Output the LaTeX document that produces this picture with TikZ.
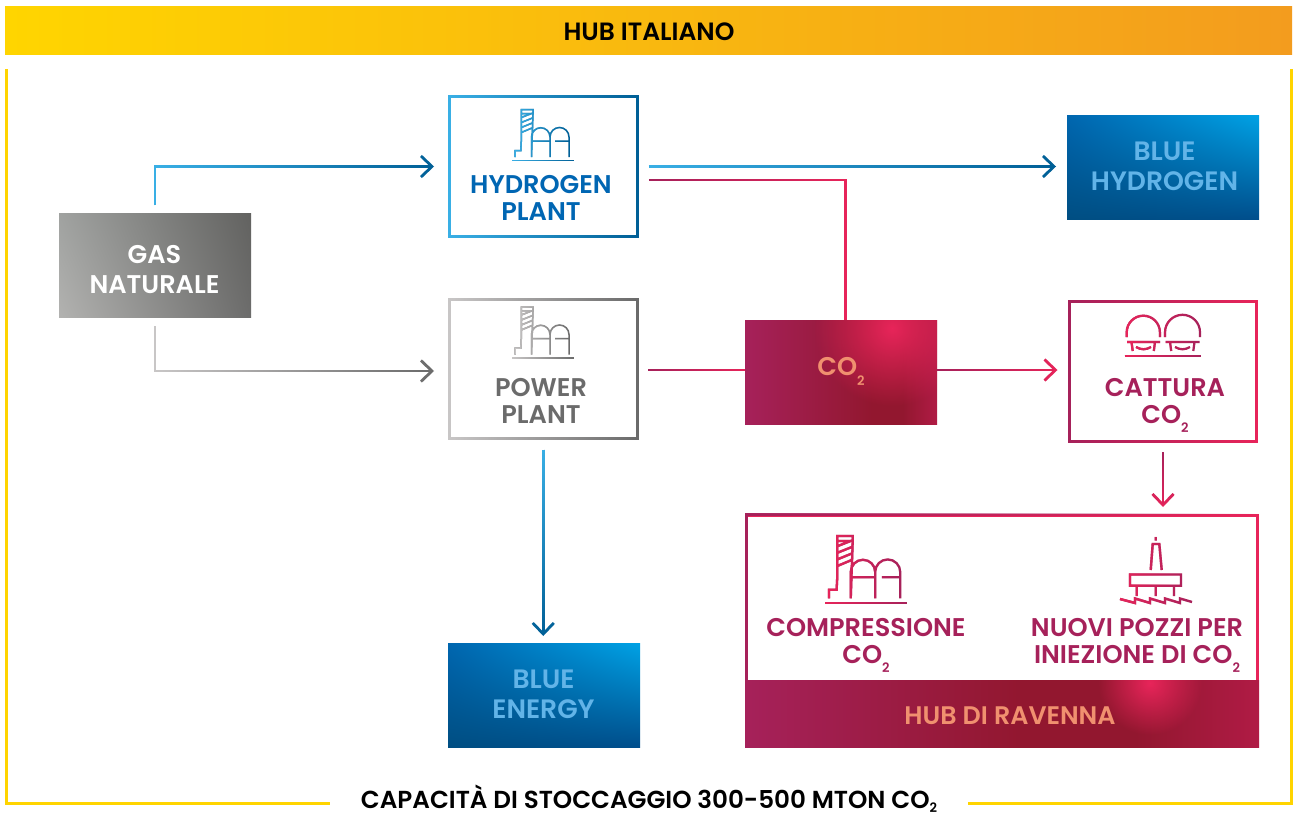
\documentclass[tikz,border=0pt]{standalone}
\usepackage{fontspec}
\setmainfont{Poppins}[BoldFont={Poppins SemiBold}]
\usetikzlibrary{arrows.meta,fadings,calc,shadings}
\definecolor{ybar1}{HTML}{FFD500}\definecolor{ybar2}{HTML}{F39C1E}
\definecolor{yline}{HTML}{FFD400}
\definecolor{bl1}{HTML}{3AB0E6}\definecolor{bl2}{HTML}{005F96}
\definecolor{gr1}{HTML}{C9C7C7}\definecolor{gr2}{HTML}{6A6A6A}
\definecolor{rd1}{HTML}{A6215A}\definecolor{rd2}{HTML}{E8255A}
\definecolor{bluetxt}{HTML}{0066B3}\definecolor{greytxt}{HTML}{6B6B6B}
\definecolor{redtxt}{HTML}{A6215A}\definecolor{paleblue}{HTML}{62B4E8}
\definecolor{salmon}{HTML}{F0906F}
\definecolor{dk}{HTML}{92172F}\definecolor{rr}{HTML}{B01B45}
\definecolor{gul}{HTML}{A0A2A0}\definecolor{gll}{HTML}{B2B2B0}\definecolor{gur}{HTML}{626260}\definecolor{glr}{HTML}{6C6C6B}
\definecolor{bul}{HTML}{0066AF}\definecolor{bur}{HTML}{00A2E5}\definecolor{bll}{HTML}{004E82}\definecolor{blr}{HTML}{004E8C}
\pgfdeclarehorizontalshading{coaxis}{100bp}{color(0bp)=(rd1); color(25bp)=(rd1); color(58bp)=(dk); color(66bp)=(dk); color(75bp)=(rr); color(100bp)=(rr)}
\pgfdeclarehorizontalshading{hubaxis}{100bp}{color(0bp)=(rd1); color(25bp)=(rd1); color(52bp)=(dk); color(63bp)=(dk); color(75bp)=(rr); color(100bp)=(rr)}
\tikzfading[name=fl, left color=transparent!0, right color=transparent!100]
\tikzfading[name=ft, top color=transparent!0, bottom color=transparent!100]
\tikzfading[name=blob, inner color=transparent!0, outer color=transparent!100]
\newcommand\subtwo{\raisebox{-.36em}{\fontsize{13}{13}\selectfont 2}}
\newcommand\gradh[3]{\draw[#1,icon] #3; \draw[#2,icon,path fading=fl,fit fading] #3;}
\newcommand\fadeframe[2]{\draw[#2,line width=3pt,path fading=fl,fit fading] (#1.north west) rectangle (#1.south east);}
\newcommand\factory[4]{% x y scale lw
 \begin{scope}[shift={(#1,#2)},scale=#3,line width=#4]
  \gradh{\fcolb}{\fcol}{(9.3,-50.8) rectangle (21,-47) (9.3,-47) -- (9.3,-20) -- (8.8,-10) -- (3,-10) -- (3,-3.5)
   (21,-47) -- (19.5,-3.5)
   (9.3,-43) -- (20.8,-47.5) (9.3,-38) -- (20.5,-42.5) (9.3,-33) -- (20.3,-37.5) (9.3,-28) -- (20,-32.5)
   (19.5,-3.5) -- (19.5,-23.5) arc[start angle=180,end angle=360,radius=9.25] -- (38,-3.5)
   (38,-23.5) arc[start angle=180,end angle=360,radius=9.5] -- (57,-3.5)
   (19,-19.5) -- (37,-19.5) (43,-19.5) -- (57,-19.5)}
  \gradh{\fcolb}{\fcol}{(0,-1) (0,1) (0,0) -- (62,0)}
 \end{scope}}
\tikzset{
 icon/.style={},
 conn/.style={line width=2.6pt},
 tip/.style={-{Straight Barb[length=11pt,width=21pt,line width=2.8pt]}},
 fade h/.style={path fading=fl,fit fading},
 fade v/.style={path fading=ft,fit fading},
 frame/.style={rectangle,line width=3pt,fill=white,inner sep=0pt,outer sep=0pt},
 box/.style={rectangle,inner sep=0pt,outer sep=0pt,minimum width=192pt,minimum height=104pt},
 blueshade/.style={upper left=bul, upper right=bur, lower left=bll, lower right=blr},
 lab/.style={align=center,inner sep=0pt,font=\bfseries\fontsize{25.6}{27}\selectfont},
 lab2/.style={align=center,inner sep=0pt,font=\bfseries\fontsize{25.6}{30}\selectfont},
 lab3/.style={align=center,inner sep=0pt,font=\bfseries\fontsize{26.6}{30}\selectfont},
}
\begin{document}
\begin{tikzpicture}[x=1pt,y=-1pt,line join=miter]
\useasboundingbox (0,0) rectangle (1293,816);
\fill[white] (0,0) rectangle (1293,816);
% top bar and outer frame
\node[rectangle,inner sep=0pt,minimum width=1287pt,minimum height=48pt,left color=ybar1,right color=ybar2] (topbar) at (648.5,31) {};
\node[inner sep=0pt,font=\bfseries\fontsize{25}{25}\selectfont] (toplab) at (649,32) {HUB ITALIANO};
\node[inner sep=0pt,anchor=base,font=\bfseries\fontsize{24.6}{25}\selectfont] (bottom) at (649,808) {CAPACITÀ DI STOCCAGGIO 300-500 MTON CO\raisebox{-.18em}{\fontsize{13}{13}\selectfont 2}};
\draw[yline,line width=3pt] (6,69) -- (6,803) -- (330,803);
\draw[yline,line width=3pt] (968,803) -- (1291,803) -- (1291,69);
% filled boxes
\node[box,upper left=gul,lower left=gll,upper right=gur,lower right=glr] (gas) at (155,265) {};
\node[lab2,text=white] (gaslab) at (154.5,270) {GAS\\NATURALE};
\node[box,blueshade] (bh) at (1163,167) {};
\node[lab3,text=paleblue] (bhlab) at (1164.5,166.5) {BLUE\\HYDROGEN};
\node[box,blueshade] (be) at (544,695) {};
\node[lab3,text=paleblue] (belab) at (543.5,694.5) {BLUE\\ENERGY};
% framed boxes
\node[frame,draw=bl2,minimum width=187.5pt,minimum height=140pt] (hp) at (543.25,166.5) {};
\fadeframe{hp}{bl1}
\node[frame,draw=gr2,minimum width=187.5pt,minimum height=139pt] (pp) at (543.25,369) {};
\fadeframe{pp}{gr1}
\node[frame,draw=rd2,minimum width=187pt,minimum height=140pt] (cat) at (1163,371.5) {};
\fadeframe{cat}{rd1}
\node[frame,draw=rd2,minimum width=511pt,minimum height=231pt] (rav) at (1002,630.5) {};
\fadeframe{rav}{rd1}
\node[lab,text=bluetxt] (hplab) at (541,197.5) {HYDROGEN\\PLANT};
\node[lab,text=greytxt] (pplab) at (541,401) {POWER\\PLANT};
\node[lab,text=redtxt] (catlab) at (1165,405.5) {CATTURA\\CO\subtwo};
\node[lab,text=redtxt] (complab) at (866,645.5) {COMPRESSIONE\\CO\subtwo};
\node[lab,text=redtxt] (pozzilab) at (1137,645.5) {NUOVI POZZI PER\\INIEZIONE DI CO\subtwo};
% CO2 box
\node[box,shading=coaxis] (co2) at (841,372) {};
\begin{scope}
 \clip (745,320) rectangle (937,424);
 \fill[rd2,path fading=blob,fit fading] (892,328) circle[radius=78];
\end{scope}
\node[inner sep=0pt,font=\bfseries\fontsize{25.6}{27}\selectfont,text=salmon] (co2lab) at (841,371.5) {CO\subtwo};
% Ravenna band
\node[rectangle,inner sep=0pt,outer sep=0pt,minimum width=514pt,minimum height=67pt,shading=hubaxis] (band) at (1002,713.5) {};
\begin{scope}
 \clip (745,680) rectangle (1259,747);
 \fill[rd2,path fading=blob,fit fading] (1150,683) circle[radius=52];
\end{scope}
\node[inner sep=0pt,font=\bfseries\fontsize{25.4}{27}\selectfont,text=salmon] (hublab) at (1010,716) {HUB DI RAVENNA};
% icons
\def\fcol{bl1}\def\fcolb{bl2}\factory{512}{160.5}{1}{1.5pt}
\def\fcol{gr1}\def\fcolb{gr2}\factory{512}{358}{1}{1.5pt}
\def\fcol{rd2}\def\fcolb{rd1}\factory{825}{603}{1.32}{2.3pt}
% tanks
\begin{scope}[line width=2.2pt]
\draw[rd1] (1124.5,356) -- (1201,356);
\draw[rd2,path fading=fl,fit fading] (1124.5,355) (1124.5,357) (1124.5,356) -- (1201,356);
\draw[rd1] (1126.7,337) -- (1126.7,332.3) arc[start angle=180,end angle=360,radius=16.6] -- (1159.9,337)
  (1127,342) -- (1160,342) (1131.5,342) -- (1132.7,351) (1155,342) -- (1153.8,351) (1136,347) .. controls (1141,350) and (1146,350) .. (1151,347)
  (1165,337) -- (1165,332.3) arc[start angle=180,end angle=360,radius=17.5] -- (1200,337)
  (1165.5,342) -- (1199.5,342) (1170,342) -- (1171.2,351) (1194.5,342) -- (1193.3,351) (1175,347) .. controls (1180,350) and (1185,350) .. (1190,347);
\draw[rd2,path fading=fl,fit fading] (1126.7,337) -- (1126.7,332.3) arc[start angle=180,end angle=360,radius=16.6] -- (1159.9,337)
  (1127,342) -- (1160,342) (1131.5,342) -- (1132.7,351) (1155,342) -- (1153.8,351) (1136,347) .. controls (1141,350) and (1146,350) .. (1151,347)
  (1165,337) -- (1165,332.3) arc[start angle=180,end angle=360,radius=17.5] -- (1200,337)
  (1165.5,342) -- (1199.5,342) (1170,342) -- (1171.2,351) (1194.5,342) -- (1193.3,351) (1175,347) .. controls (1180,350) and (1185,350) .. (1190,347);
\end{scope}
% platform
\begin{scope}[line width=2.4pt]
\draw[rd1] (1155.7,537) -- (1155.7,540.5) (1150.7,570) -- (1152.7,544) -- (1159.3,544) -- (1161.7,570)
  (1130,574.5) rectangle (1181,585.7) (1136.7,585.7) -- (1136.7,596) (1155.7,585.7) -- (1155.7,596) (1174,585.7) -- (1174,596)
  (1120,599) -- (1135,603) -- (1135,598.5) -- (1150,603) -- (1150,598.5) -- (1165,603) -- (1165,598.5) -- (1180,603) -- (1180,598.5) -- (1192,602);
\draw[rd2,path fading=fl,fit fading] (1155.7,537) -- (1155.7,540.5) (1150.7,570) -- (1152.7,544) -- (1159.3,544) -- (1161.7,570)
  (1130,574.5) rectangle (1181,585.7) (1136.7,585.7) -- (1136.7,596) (1155.7,585.7) -- (1155.7,596) (1174,585.7) -- (1174,596)
  (1120,599) -- (1135,603) -- (1135,598.5) -- (1150,603) -- (1150,598.5) -- (1165,603) -- (1165,598.5) -- (1180,603) -- (1180,598.5) -- (1192,602);
\end{scope}
% connectors
\newcommand\gascone{([yshift=8pt]gas.north) |- ([xshift=-15.5pt]hp.west)}
\draw[conn,tip,bl2] \gascone;
\draw[conn,tip,bl1,fade h] \gascone;
\newcommand\gasconf{([yshift=-9pt]gas.south) |- ([xshift=-15.5pt,yshift=-2pt]pp.west)}
\draw[conn,tip,gr2] \gasconf;
\draw[conn,tip,gr1,fade h] \gasconf;
\newcommand\hpbh{([xshift=12pt,yshift=5pt]hp.east) ([xshift=12pt,yshift=-5pt]hp.east) ([xshift=12pt]hp.east) -- ([xshift=-11pt,yshift=.5pt]bh.west)}
\draw[conn,tip,bl2] \hpbh;
\draw[conn,tip,bl1,fade h] \hpbh;
\newcommand\hpco{([xshift=12pt,yshift=-13.5pt]hp.east) -| ([xshift=4.5pt]co2.north)}
\draw[conn,rd2] \hpco;
\draw[conn,rd1,fade h] \hpco;
\newcommand\ppco{([xshift=11pt,yshift=4pt]pp.east) ([xshift=11pt,yshift=-6pt]pp.east) ([xshift=11pt,yshift=-1pt]pp.east) -- ([yshift=2pt]co2.west)}
\draw[conn,rd2] \ppco;
\draw[conn,rd1,fade h] \ppco;
\newcommand\cocat{([yshift=7pt]co2.east) ([yshift=-3pt]co2.east) ([yshift=2pt]co2.east) -- ([xshift=-12pt,yshift=1.5pt]cat.west)}
\draw[conn,tip,rd2] \cocat;
\draw[conn,tip,rd1,fade h] \cocat;
\newcommand\catrav{([xshift=-5pt,yshift=-11pt]cat.south) ([xshift=5pt,yshift=-11pt]cat.south) ([yshift=-11pt]cat.south) -- ($(cat.south |- rav.north)+(0,-8)$)}
\draw[conn,tip,rd2] \catrav;
\draw[conn,tip,rd1,fade v] \catrav;
\newcommand\ppbe{([xshift=-5pt,yshift=-11pt]pp.south) ([xshift=5pt,yshift=-11pt]pp.south) ([yshift=-11pt]pp.south) -- ([yshift=7pt]pp.south |- be.north)}
\draw[conn,tip,bl2] \ppbe;
\draw[conn,tip,bl1,fade v] \ppbe;
\end{tikzpicture}
\end{document}
